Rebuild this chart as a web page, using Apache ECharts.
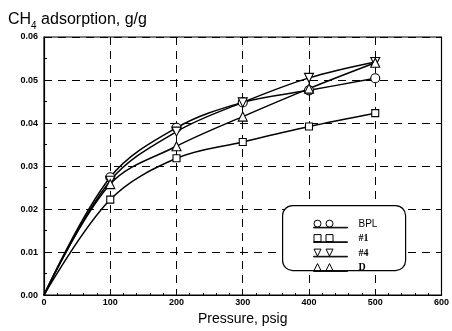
<!DOCTYPE html>
<html><head><meta charset="utf-8">
<script src="https://cdn.jsdelivr.net/npm/echarts@6/dist/echarts.min.js"></script>
<style>html,body{margin:0;padding:0;background:#fff}#c{width:452px;height:331px}</style>
</head><body><div id="c"></div>
<script>
const pressure = [0, 100, 200, 300, 400, 500];
const seriesNames = ['BPL', '#1', '#4', 'D'];
const bpl = [0, 0.0274, 0.0389, 0.0448, 0.0476, 0.0504];
const s1  = [0, 0.0222, 0.0318, 0.0356, 0.0392, 0.0423];
const s4  = [0, 0.0266, 0.0380, 0.0448, 0.0505, 0.0542];
const sD  = [0, 0.0258, 0.0346, 0.0415, 0.0480, 0.0540];
const xTicks = [0, 100, 200, 300, 400, 500, 600];
const yTicks = [0.00, 0.01, 0.02, 0.03, 0.04, 0.05, 0.06];

const downTri = 'path://M0,0 L10,0 L5,9 Z';
const symbols = ['circle', 'rect', downTri, 'triangle'];
const bar = ' M0,7.7 L34,7.7 L34,8.3 L0,8.3 Z';
const icons = [
  'path://M0.5,4 A3.5,3.5 0 1,1 7.5,4 A3.5,3.5 0 1,1 0.5,4 Z M12.5,4 A3.5,3.5 0 1,1 19.5,4 A3.5,3.5 0 1,1 12.5,4 Z' + bar,
  'path://M0.5,0.5 L7.5,0.5 L7.5,7.5 L0.5,7.5 Z M12.5,0.5 L19.5,0.5 L19.5,7.5 L12.5,7.5 Z' + bar,
  'path://M0.5,0.5 L7.5,0.5 L4,7.5 Z M12.5,0.5 L19.5,0.5 L16,7.5 Z' + bar,
  'path://M0.5,7.5 L4,0.5 L7.5,7.5 Z M12.5,7.5 L16,0.5 L19.5,7.5 Z' + bar
];
const allData = [bpl, s1, s4, sD];

const chart = echarts.init(document.getElementById('c'), null, {renderer: 'canvas'});
const axisLabelStyle = {fontFamily: 'Liberation Sans, Arial', fontWeight: 'bold', fontSize: 9, color: '#000'};

chart.setOption({
  animation: false,
  backgroundColor: '#fff',
  grid: {left: 44, right: 7, top: 37, bottom: 30, show: true, borderColor: '#000', borderWidth: 1.2},
  title: {
    text: 'CH{s|4} adsorption, g/g',
    left: 3, top: 4,
    textStyle: {fontFamily: 'Liberation Sans, Arial', fontSize: 16, fontWeight: 'normal', color: '#000',
      rich: {s: {fontFamily: 'Liberation Sans, Arial', fontSize: 10, color: '#000', padding: [12, 0, 0, 0]}}}
  },
  xAxis: {
    type: 'value', min: 0, max: 600, interval: 100,
    name: 'Pressure, psig', nameLocation: 'middle', nameGap: 16,
    nameTextStyle: {fontFamily: 'Liberation Sans, Arial', fontSize: 14, color: '#000'},
    axisLine: {lineStyle: {color: '#000', width: 1.2}},
    axisTick: {inside: true, length: 4, lineStyle: {color: '#000'}},
    minorTick: {show: true, splitNumber: 5, length: 2, lineStyle: {color: '#000'}},
    axisLabel: Object.assign({margin: 3, formatter: v => xTicks.includes(v) ? String(v) : ''}, axisLabelStyle),
    splitLine: {show: true, lineStyle: {color: '#000', type: [8, 6], width: 1}}
  },
  yAxis: {
    type: 'value', min: 0, max: 0.06, interval: 0.01,
    axisLine: {show: true, lineStyle: {color: '#000', width: 1.2}},
    axisTick: {show: true, inside: true, length: 4, lineStyle: {color: '#000'}},
    minorTick: {show: true, splitNumber: 2, length: 3, lineStyle: {color: '#000'}},
    axisLabel: Object.assign({margin: 6, formatter: v => v.toFixed(2)}, axisLabelStyle),
    splitLine: {show: true, lineStyle: {color: '#000', type: [8, 6], width: 1}}
  },
  legend: {
    orient: 'vertical', left: 308, top: 214, itemGap: 4.5,
    itemWidth: 34, itemHeight: 8,
    data: seriesNames.map((n, i) => ({name: n, icon: icons[i]})),
    textStyle: {color: '#000', fontSize: 10, fontFamily: 'Liberation Serif, Times New Roman', fontWeight: 'bold', padding: [0, 0, 0, 6],
      rich: {a: {fontFamily: 'Liberation Sans, Arial', fontSize: 10, fontWeight: 'normal', color: '#000'}}},
    formatter: n => n === 'BPL' ? '{a|BPL}' : n,
    itemStyle: {color: '#fff', borderColor: '#000', borderWidth: 1}
  },
  graphic: [{
    type: 'rect', left: 282, top: 205, z: 3,
    shape: {width: 123, height: 65, r: 10},
    style: {fill: '#fff', stroke: '#000', lineWidth: 1.2}
  }],
  series: allData.map((arr, i) => ({
    name: seriesNames[i], type: 'line', smooth: 0.35, z: 5,
    symbol: symbols[i], symbolSize: i === 1 ? 7 : 9,
    lineStyle: {color: '#000', width: 1.5},
    itemStyle: {color: '#fff', borderColor: '#000', borderWidth: 1.1},
    data: arr.map((v, j) => j === 0 ? {value: [pressure[j], v], symbol: 'none'} : [pressure[j], v])
  }))
});
</script></body></html>
